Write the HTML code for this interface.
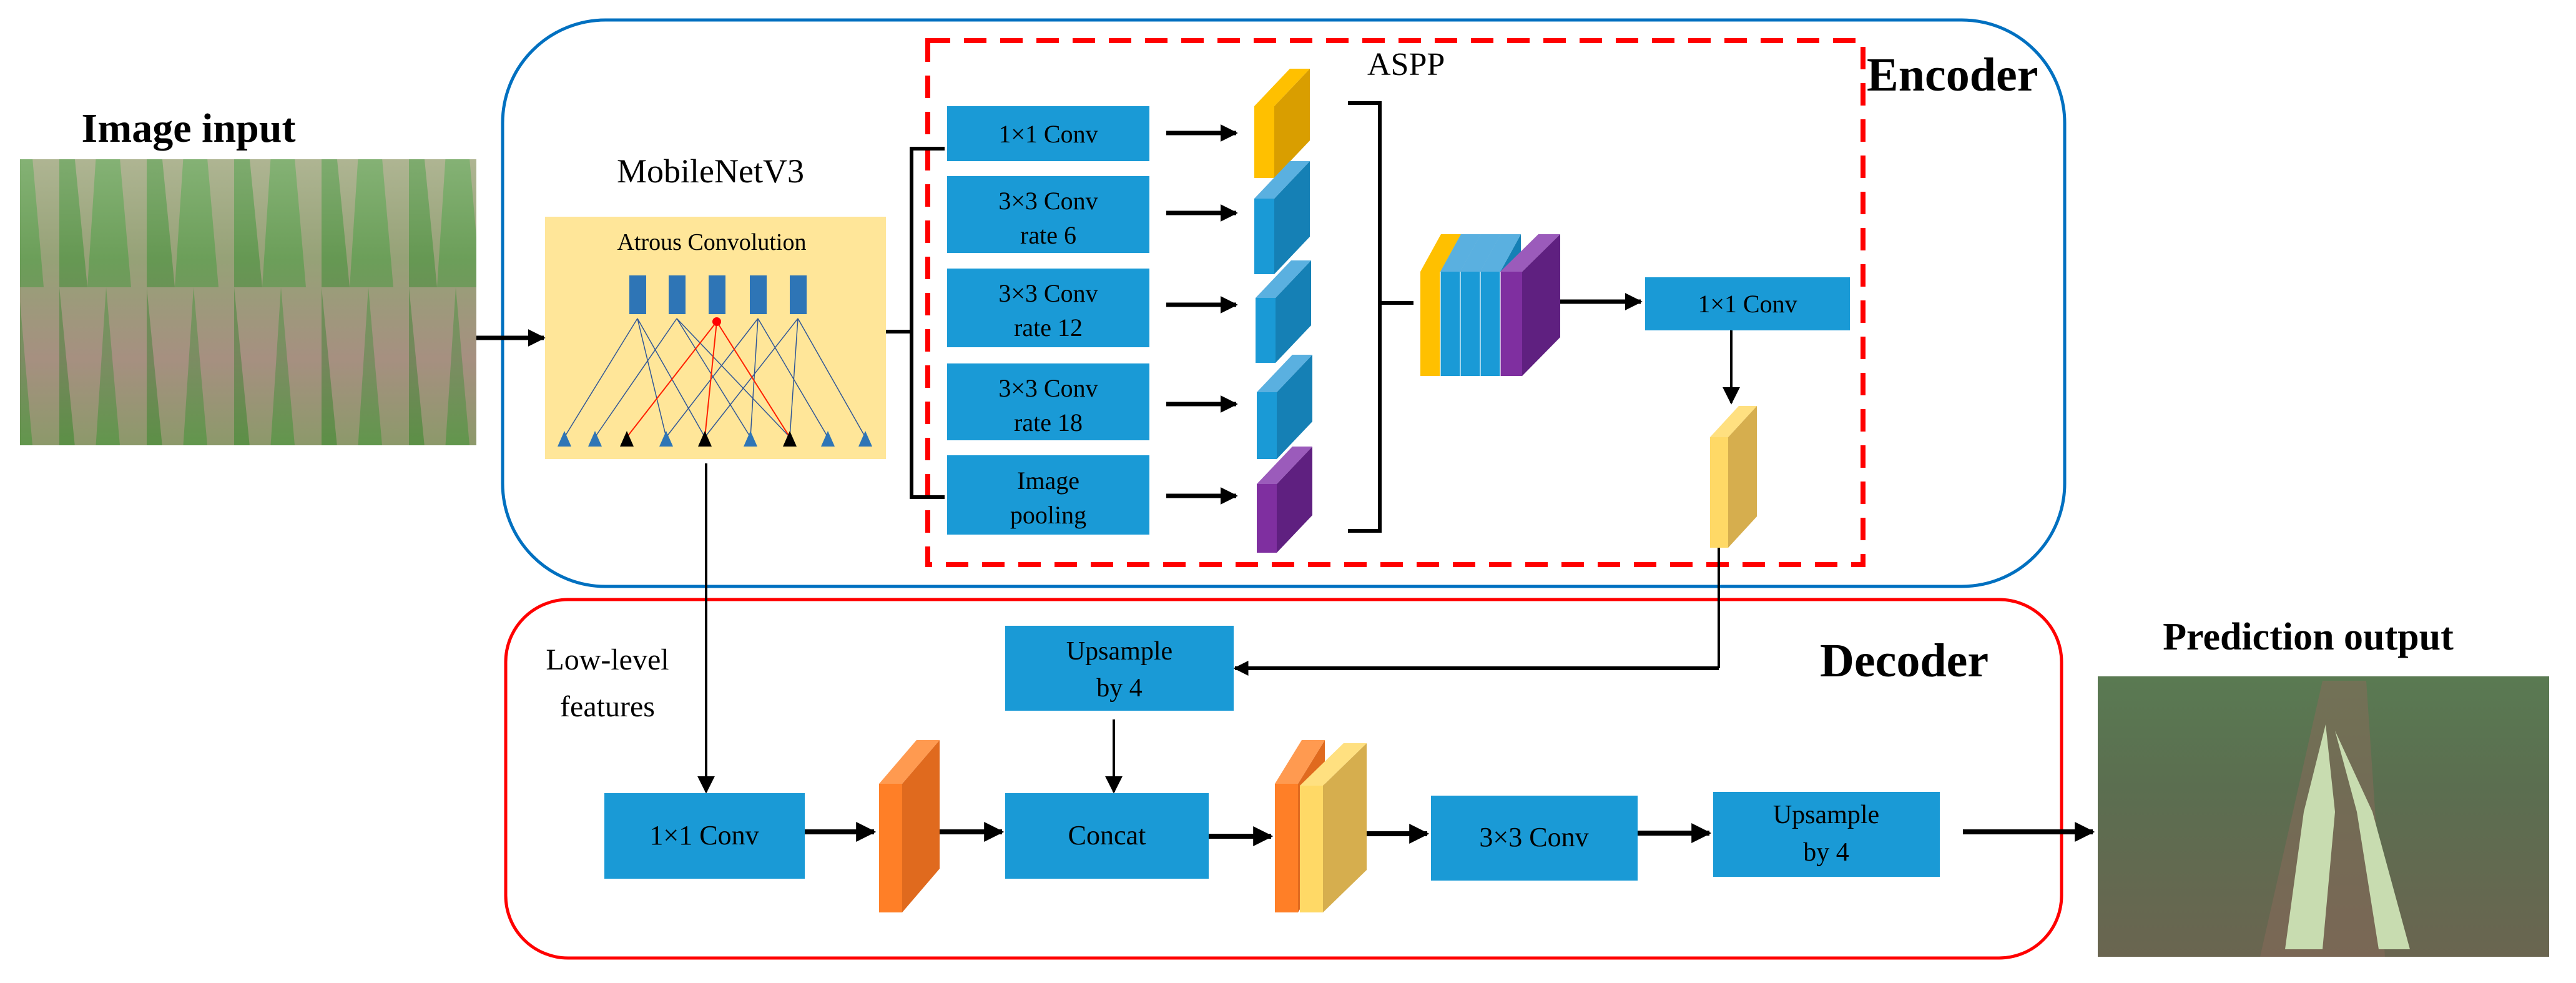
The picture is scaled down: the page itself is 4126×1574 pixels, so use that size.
<!DOCTYPE html>
<html><head><meta charset="utf-8"><style>
html,body{margin:0;padding:0;background:#fff}
svg{display:block}
svg text{font-family:"Liberation Serif","Times New Roman",serif !important}
</style></head><body>
<svg width="4126" height="1574" viewBox="0 0 4126 1574" xmlns="http://www.w3.org/2000/svg" font-family="Liberation Serif, serif" style="font-family:'Liberation Serif',serif">
<defs>
<marker id="ah" viewBox="0 0 10 10" refX="9" refY="5" markerWidth="4" markerHeight="4" orient="auto" markerUnits="strokeWidth"><path d="M0,0L10,5L0,10z" fill="#000"/></marker>
<marker id="ah2" viewBox="0 0 10 10" refX="9" refY="5" markerWidth="7" markerHeight="7" orient="auto" markerUnits="strokeWidth"><path d="M0,0L10,5L0,10z" fill="#000"/></marker>
<linearGradient id="field" x1="0" y1="0" x2="0" y2="1">
<stop offset="0" stop-color="#a8c898"/><stop offset="0.35" stop-color="#7fa86a"/><stop offset="0.7" stop-color="#9a8a7a"/><stop offset="1" stop-color="#6f9a55"/></linearGradient>
<pattern id="rows" width="140" height="460" patternUnits="userSpaceOnUse"><rect width="140" height="460" fill="#b8988a"/><path d="M30,0 L70,460 L0,460 Z" fill="#4f9040"/><path d="M95,0 L140,460 L95,460 Z" fill="#3f8030"/></pattern>
<linearGradient id="out" x1="0" y1="0" x2="0" y2="1"><stop offset="0" stop-color="#5a7a52"/><stop offset="0.4" stop-color="#5b6e50"/><stop offset="1" stop-color="#6a6550"/></linearGradient>
</defs>
<g font-family="Liberation Serif, serif">
<!-- Input image -->
<rect x="32" y="255" width="731" height="458" fill="url(#rows)"/>
<rect x="32" y="255" width="731" height="458" fill="url(#field)" opacity="0.6"/>
<text x="302" y="227" text-anchor="middle" font-size="66" font-weight="bold">Image input</text>

<!-- Encoder box -->
<rect x="805" y="32" width="2502" height="907" rx="165" fill="none" stroke="#0070c0" stroke-width="5"/>
<rect x="1486" y="65" width="1498" height="839" fill="none" stroke="#ff0000" stroke-width="8" stroke-dasharray="36,22"/>
<text x="2190" y="120" font-size="52">ASPP</text>
<text x="2990" y="145" font-size="76" font-weight="bold">Encoder</text>

<text x="1138" y="292" text-anchor="middle" font-size="54">MobileNetV3</text>
<rect x="873" y="347" width="546" height="388" fill="#ffe699"/>
<text x="1140" y="400" text-anchor="middle" font-size="38">Atrous Convolution</text>
<g stroke="#2f5597" stroke-width="1.5">
<line x1="1021" y1="510" x2="904" y2="700"/><line x1="1021" y1="510" x2="1067" y2="700"/><line x1="1021" y1="510" x2="1129" y2="700"/>
<line x1="1084" y1="510" x2="953" y2="700"/><line x1="1084" y1="510" x2="1202" y2="700"/>
<line x1="1214" y1="510" x2="1067" y2="700"/><line x1="1214" y1="510" x2="1326" y2="700"/><line x1="1214" y1="510" x2="1202" y2="700"/>
<line x1="1278" y1="510" x2="1129" y2="700"/><line x1="1278" y1="510" x2="1386" y2="700"/><line x1="1278" y1="510" x2="1265" y2="700"/>
<line x1="1084" y1="510" x2="1265" y2="700"/>
</g>
<g stroke="#ff2000" stroke-width="2"><line x1="1148" y1="515" x2="1004" y2="700"/><line x1="1148" y1="515" x2="1129" y2="700"/><line x1="1148" y1="515" x2="1265" y2="700"/></g>
<g fill="#2e75b6">
<rect x="1008" y="441" width="27" height="62"/><rect x="1071" y="441" width="27" height="62"/><rect x="1135" y="441" width="27" height="62" /><rect x="1201" y="441" width="27" height="62"/><rect x="1265" y="441" width="27" height="62"/>
</g>
<circle cx="1148" cy="515" r="7" fill="#ff0000"/>
<g fill="#2e75b6">
<path d="M904,690 L893,715 L915,715Z"/><path d="M953,690 L942,715 L964,715Z"/><path d="M1067,690 L1056,715 L1078,715Z"/><path d="M1202,690 L1191,715 L1213,715Z"/><path d="M1326,690 L1315,715 L1337,715Z"/><path d="M1386,690 L1375,715 L1397,715Z"/>
</g>
<g fill="#000"><path d="M1004,690 L993,715 L1015,715Z"/><path d="M1129,690 L1118,715 L1140,715Z"/><path d="M1265,690 L1254,715 L1276,715Z"/></g>

<line x1="763" y1="541" x2="871" y2="541" stroke="#000" stroke-width="7" marker-end="url(#ah)"/>
<g stroke="#000" stroke-width="6" fill="none">
<line x1="1419" y1="531" x2="1460" y2="531"/>
<polyline points="1513,238 1460,238 1460,796 1513,796"/>
</g>

<g fill="#1a9ad6">
<rect x="1517" y="170" width="324" height="88"/>
<rect x="1517" y="282" width="324" height="123"/>
<rect x="1517" y="430" width="324" height="126"/>
<rect x="1517" y="582" width="324" height="123"/>
<rect x="1517" y="729" width="324" height="127"/>
</g>
<g font-size="40" text-anchor="middle">
<text x="1679" y="228">1×1 Conv</text>
<text x="1679" y="335">3×3 Conv</text><text x="1679" y="390">rate 6</text>
<text x="1679" y="483">3×3 Conv</text><text x="1679" y="538">rate 12</text>
<text x="1679" y="635">3×3 Conv</text><text x="1679" y="690">rate 18</text>
<text x="1679" y="783">Image</text><text x="1679" y="838">pooling</text>
</g>
<g stroke="#000" stroke-width="7" marker-end="url(#ah)">
<line x1="1868" y1="213" x2="1980" y2="213"/>
<line x1="1868" y1="341" x2="1980" y2="341"/>
<line x1="1868" y1="488" x2="1980" y2="488"/>
<line x1="1868" y1="647" x2="1980" y2="647"/>
<line x1="1868" y1="794" x2="1980" y2="794"/>
</g>

<g><rect x="2009" y="170" width="32" height="115" fill="#ffc000"/><path d="M2041,170 L2098,110 L2098,225 L2041,285Z" fill="#d99e00"/><path d="M2009,170 L2066,110 L2098,110 L2041,170Z" fill="#ffc000"/></g>
<g><rect x="2009" y="318" width="32" height="121" fill="#1a9ad6"/><path d="M2041,318 L2098,258 L2098,379 L2041,439Z" fill="#1580b5"/><path d="M2009,318 L2066,258 L2098,258 L2041,318Z" fill="#5ab0e0"/></g>
<g><rect x="2011" y="477" width="32" height="104" fill="#1a9ad6"/><path d="M2043,477 L2100,417 L2100,521 L2043,581Z" fill="#1580b5"/><path d="M2011,477 L2068,417 L2100,417 L2043,477Z" fill="#5ab0e0"/></g>
<g><rect x="2013" y="628" width="32" height="107" fill="#1a9ad6"/><path d="M2045,628 L2102,568 L2102,675 L2045,735Z" fill="#1580b5"/><path d="M2013,628 L2070,568 L2102,568 L2045,628Z" fill="#5ab0e0"/></g>
<g><rect x="2013" y="775" width="32" height="110" fill="#7f2fa0"/><path d="M2045,775 L2102,715 L2102,825 L2045,885Z" fill="#5f2080"/><path d="M2013,775 L2070,715 L2102,715 L2045,775Z" fill="#9b5bbb"/></g>

<g stroke="#000" stroke-width="6" fill="none">
<polyline points="2159,165 2210,165 2210,850 2159,850"/>
<line x1="2210" y1="485" x2="2264" y2="485"/>
</g>
<g><rect x="2275" y="435" width="32" height="167" fill="#ffc000"/><path d="M2307,435 L2340,375 L2340,540 L2307,602Z" fill="#d99e00"/><path d="M2275,435 L2308,375 L2340,375 L2307,435Z" fill="#ffc000"/></g>
<g><rect x="2307" y="435" width="32" height="167" fill="#1a9ad6"/><path d="M2339,435 L2372,375 L2372,540 L2339,602Z" fill="#1580b5"/><path d="M2307,435 L2340,375 L2372,375 L2339,435Z" fill="#5ab0e0"/></g>
<g><rect x="2339" y="435" width="32" height="167" fill="#1a9ad6"/><path d="M2371,435 L2404,375 L2404,540 L2371,602Z" fill="#1580b5"/><path d="M2339,435 L2372,375 L2404,375 L2371,435Z" fill="#5ab0e0"/></g>
<g><rect x="2371" y="435" width="32" height="167" fill="#1a9ad6"/><path d="M2403,435 L2436,375 L2436,540 L2403,602Z" fill="#1580b5"/><path d="M2371,435 L2404,375 L2436,375 L2403,435Z" fill="#5ab0e0"/></g>
<g><rect x="2403" y="435" width="35" height="167" fill="#7f2fa0"/><path d="M2438,435 L2499,375 L2499,540 L2438,602Z" fill="#5f2080"/><path d="M2403,435 L2464,375 L2499,375 L2438,435Z" fill="#9b5bbb"/></g>
<g stroke="#ffffff" stroke-width="2" opacity="0.6"><line x1="2307" y1="435" x2="2307" y2="602"/><line x1="2339" y1="435" x2="2339" y2="602"/><line x1="2371" y1="435" x2="2371" y2="602"/><line x1="2403" y1="435" x2="2403" y2="602"/></g>

<line x1="2499" y1="483" x2="2628" y2="483" stroke="#000" stroke-width="7" marker-end="url(#ah)"/>
<rect x="2635" y="444" width="328" height="85" fill="#1a9ad6"/>
<text x="2799" y="500" text-anchor="middle" font-size="40">1×1 Conv</text>
<line x1="2773" y1="529" x2="2773" y2="645" stroke="#000" stroke-width="4" marker-end="url(#ah2)"/>
<g><rect x="2739" y="700" width="29" height="177" fill="#ffd966"/><path d="M2768,700 L2814,650 L2814,827 L2768,877Z" fill="#d6ae4e"/><path d="M2739,700 L2785,650 L2814,650 L2768,700Z" fill="#ffe080"/></g>

<!-- Decoder -->
<rect x="810" y="960" width="2492" height="574" rx="100" fill="none" stroke="#ff0000" stroke-width="5"/>
<text x="2915" y="1083" font-size="76" font-weight="bold">Decoder</text>
<text x="973" y="1072" text-anchor="middle" font-size="48">Low-level</text>
<text x="973" y="1147" text-anchor="middle" font-size="48">features</text>

<line x1="1131" y1="742" x2="1131" y2="1268" stroke="#000" stroke-width="4" marker-end="url(#ah2)"/>
<polyline points="2753,877 2753,1070" fill="none" stroke="#000" stroke-width="4"/>
<line x1="2753" y1="1070" x2="1978" y2="1070" stroke="#000" stroke-width="6" marker-end="url(#ah)"/>

<rect x="1610" y="1002" width="366" height="136" fill="#1a9ad6"/>
<text x="1793" y="1056" text-anchor="middle" font-size="42">Upsample</text>
<text x="1793" y="1115" text-anchor="middle" font-size="42">by 4</text>
<line x1="1784" y1="1152" x2="1784" y2="1268" stroke="#000" stroke-width="4" marker-end="url(#ah2)"/>

<rect x="968" y="1270" width="321" height="137" fill="#1a9ad6"/>
<text x="1128" y="1352" text-anchor="middle" font-size="44">1×1 Conv</text>
<line x1="1289" y1="1332" x2="1400" y2="1332" stroke="#000" stroke-width="8" marker-end="url(#ah)"/>
<g><rect x="1408" y="1255" width="37" height="206" fill="#ff7f27"/><path d="M1445,1255 L1505,1185 L1505,1391 L1445,1461Z" fill="#e06a1e"/><path d="M1408,1255 L1468,1185 L1505,1185 L1445,1255Z" fill="#ff9a50"/></g>
<line x1="1505" y1="1332" x2="1605" y2="1332" stroke="#000" stroke-width="8" marker-end="url(#ah)"/>
<rect x="1610" y="1270" width="326" height="137" fill="#1a9ad6"/>
<text x="1773" y="1352" text-anchor="middle" font-size="44">Concat</text>
<line x1="1936" y1="1339" x2="2036" y2="1339" stroke="#000" stroke-width="8" marker-end="url(#ah)"/>
<g><rect x="2042" y="1255" width="37" height="206" fill="#ff7f27"/><path d="M2079,1255 L2122,1185 L2122,1391 L2079,1461Z" fill="#e06a1e"/><path d="M2042,1255 L2085,1185 L2122,1185 L2079,1255Z" fill="#ff9a50"/></g>
<g><rect x="2082" y="1258" width="37" height="203" fill="#ffd966"/><path d="M2119,1258 L2189,1190 L2189,1393 L2119,1461Z" fill="#d6ae4e"/><path d="M2082,1258 L2152,1190 L2189,1190 L2119,1258Z" fill="#ffe080"/></g>
<line x1="2189" y1="1335" x2="2286" y2="1335" stroke="#000" stroke-width="8" marker-end="url(#ah)"/>
<rect x="2292" y="1274" width="331" height="136" fill="#1a9ad6"/>
<text x="2457" y="1355" text-anchor="middle" font-size="44">3×3 Conv</text>
<line x1="2623" y1="1334" x2="2738" y2="1334" stroke="#000" stroke-width="8" marker-end="url(#ah)"/>
<rect x="2744" y="1268" width="363" height="136" fill="#1a9ad6"/>
<text x="2925" y="1318" text-anchor="middle" font-size="42">Upsample</text>
<text x="2925" y="1378" text-anchor="middle" font-size="42">by 4</text>
<line x1="3144" y1="1332" x2="3352" y2="1332" stroke="#000" stroke-width="8" marker-end="url(#ah)"/>

<rect x="3360" y="1083" width="723" height="449" fill="url(#out)"/>
<path d="M3720,1090 L3790,1090 L3820,1532 L3620,1532Z" fill="#8a6a5a" opacity="0.5"/>
<path d="M3725,1160 L3690,1300 L3660,1520 L3720,1520 L3740,1300Z" fill="#c8dcb0"/>
<path d="M3740,1170 L3775,1300 L3810,1520 L3860,1520 L3800,1300Z" fill="#c8dcb0"/>
<text x="3697" y="1040" text-anchor="middle" font-size="62" font-weight="bold">Prediction output</text>
</g>
</svg>
</body></html>
